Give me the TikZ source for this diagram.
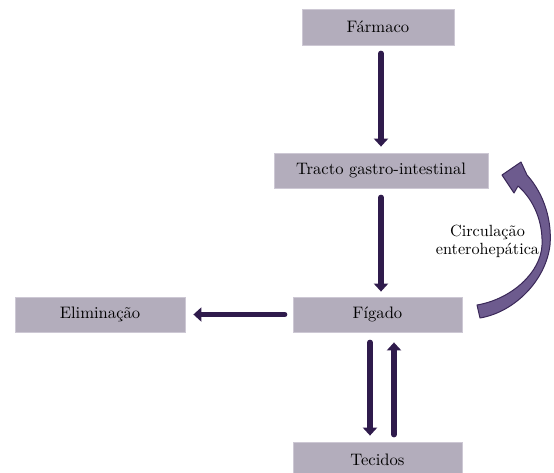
\documentclass[tikz,border=0pt]{standalone}
\usepackage{fontspec}
\setmainfont{lmroman10}[Extension=.otf,UprightFont=*-regular,BoldFont=*-bold,ItalicFont=*-italic,BoldItalicFont=*-bolditalic]
\usetikzlibrary{arrows.meta,calc}
\definecolor{boxc}{RGB}{179,173,188}
\definecolor{boxb}{RGB}{205,200,212}
\definecolor{arrc}{RGB}{47,27,76}
\definecolor{curvc}{RGB}{109,91,142}
\definecolor{curvb}{RGB}{58,40,88}
\begin{document}
\begin{tikzpicture}[x=1pt,y=-1pt,
  box/.style={fill=boxc,draw=boxb,line width=0.8pt,inner sep=0pt,minimum height=35pt,
    font=\fontsize{16.6}{19}\selectfont},
  arr/.style={line width=5.5pt,draw=arrc,-{Triangle[width=14pt,length=8pt]},line cap=round}]
\useasboundingbox (0,0) rectangle (554,472);
\clip (0,0) rectangle (554,472);
\node[box,minimum width=152pt,minimum height=36pt] (far) at (378,27) {Fármaco};
\node[box,minimum width=214pt] (tgi) at (381,170.5) {Tracto gastro-intestinal};
\node[box,minimum width=169pt] (fig) at (377.5,314.5) {Fígado};
\node[box,minimum width=170pt] (eli) at (100,314.5) {Eliminação};
\node[box,minimum width=169pt] (tec) at (377.5,459.5) {Tecidos};
\draw[arr,shorten <=8pt,shorten >=6pt] (tgi.north |- far.south) -- (tgi.north);
\draw[arr,shorten <=9pt,shorten >=5pt] (tgi.south) -- (tgi.south |- fig.north);
\draw[arr,shorten <=8pt,shorten >=8pt] (fig.west) -- (eli.east);
\draw[arr,shorten <=10pt,shorten >=6pt] ([xshift=-7.5pt]fig.south) -- ([xshift=-7.5pt]tec.north);
\draw[arr,shorten <=7pt,shorten >=10pt] ([xshift=16.5pt]tec.north) -- ([xshift=16.5pt]fig.south);
% curved block arrow: Figado -> Tracto
\filldraw[fill=curvc,draw=curvb,line width=1pt,line join=round]
  (527,175) .. controls (545,195) and (552,222) .. (550,245)
  .. controls (546,280) and (515,312) .. (480,318)
  -- (477,305)
  .. controls (512,299) and (541,272) .. (542,245)
  .. controls (543,222) and (534,200) .. (518,186)
  -- (514,193) -- (502,175) -- (521,162) -- cycle;
\node[align=center,font=\fontsize{16.2}{18}\selectfont,inner sep=0pt] (circ) at (487.5,241) {Circulação\\enterohepática};
\end{tikzpicture}
\end{document}
